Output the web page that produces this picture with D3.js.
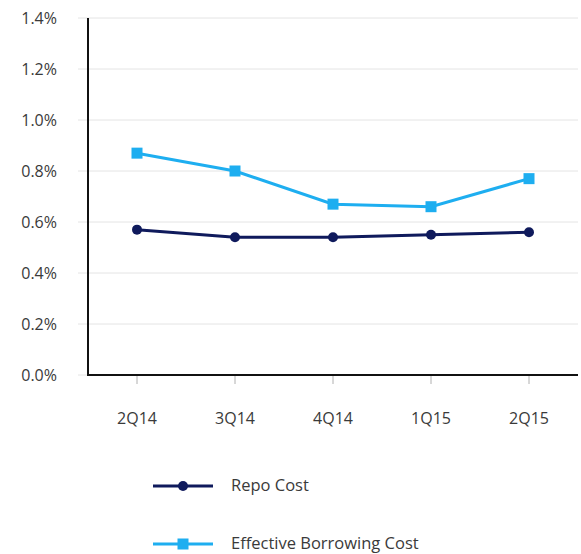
<!DOCTYPE html>
<html>
<head>
<meta charset="utf-8">
<script src="https://cdn.jsdelivr.net/npm/d3@7/dist/d3.min.js"></script>
<style>
  body { margin: 0; background: #fff; }
  text { font-family: "Open Sans", "Liberation Sans", sans-serif; fill: #3a3a3a; }
</style>
</head>
<body>
<svg id="chart" width="581" height="554"></svg>
<script>
// values
let quarters = ["2Q14", "3Q14", "4Q14", "1Q15", "2Q15"];
let repoCost = [0.57, 0.54, 0.54, 0.55, 0.56];
let effectiveCost = [0.87, 0.80, 0.67, 0.66, 0.77];
let yTicks = [0, 0.2, 0.4, 0.6, 0.8, 1.0, 1.2, 1.4];

let series = [
    {name: "Repo Cost", values: repoCost, color: "#0f1a5c", marker: "circle"},
    {name: "Effective Borrowing Cost", values: effectiveCost, color: "#1eaef0", marker: "square"}
];

let svg = d3.select("#chart");

let x = d3.scaleBand().domain(quarters).range([88, 578]);
let y = d3.scaleLinear().domain([0, 1.4]).range([375, 18]);

// gridlines
svg.append("g").selectAll("line.grid")
    .data(yTicks)
    .enter()
    .append("line").classed("grid", true)
    .attr("x1", 78).attr("x2", 578)
    .attr("y1", d => y(d)).attr("y2", d => y(d))
    .attr("stroke", "#e4e4e4").attr("stroke-width", 1);

// y labels
svg.append("g").selectAll("text.ylab")
    .data(yTicks)
    .enter()
    .append("text").classed("ylab", true)
    .attr("x", 57)
    .attr("y", d => y(d) + 6)
    .attr("text-anchor", "end")
    .style("font-size", "16px")
    .text(d => d3.format(".1f")(d) + "%");

// x ticks
svg.append("g").selectAll("line.xtick")
    .data(quarters)
    .enter()
    .append("line").classed("xtick", true)
    .attr("x1", d => x(d) + x.bandwidth() / 2)
    .attr("x2", d => x(d) + x.bandwidth() / 2)
    .attr("y1", 375).attr("y2", 384)
    .attr("stroke", "#b0b0b0").attr("stroke-width", 1);

svg.append("g").selectAll("text.xlab")
    .data(quarters)
    .enter()
    .append("text").classed("xlab", true)
    .attr("x", d => x(d) + x.bandwidth() / 2)
    .attr("y", 424)
    .attr("text-anchor", "middle")
    .style("font-size", "16px")
    .text(d => d);

// axes
svg.append("line")
    .attr("x1", 88).attr("x2", 88).attr("y1", 18).attr("y2", 376)
    .attr("stroke", "#111").attr("stroke-width", 2);
svg.append("line")
    .attr("x1", 87).attr("x2", 578).attr("y1", 375).attr("y2", 375)
    .attr("stroke", "#111").attr("stroke-width", 2);

let line = d3.line()
    .x((d, i) => x(quarters[i]) + x.bandwidth() / 2)
    .y(d => y(d));

function drawMarker(sel, s, cx, cy) {
    if (s.marker == "circle") {
        sel.append("circle")
            .attr("cx", cx).attr("cy", cy).attr("r", 5)
            .attr("fill", s.color);
    } else {
        sel.append("rect")
            .attr("x", cx - 5.5).attr("y", cy - 5.5)
            .attr("width", 11).attr("height", 11)
            .attr("fill", s.color);
    }
}

series.forEach(function (s) {
    let g = svg.append("g");
    g.append("path")
        .attr("d", line(s.values))
        .attr("fill", "none")
        .attr("stroke", s.color)
        .attr("stroke-width", 3);
    s.values.forEach(function (v, i) {
        drawMarker(g, s, x(quarters[i]) + x.bandwidth() / 2, y(v));
    });
});

// legend
series.forEach(function (s, i) {
    let ly = 486 + i * 58;
    let g = svg.append("g");
    g.append("line")
        .attr("x1", 153).attr("x2", 213).attr("y1", ly).attr("y2", ly)
        .attr("stroke", s.color).attr("stroke-width", 3);
    drawMarker(g, s, 183, ly);
    g.append("text")
        .attr("x", 231).attr("y", ly + 5)
        .style("font-size", "16.5px")
        .text(s.name);
});
</script>
</body>
</html>
